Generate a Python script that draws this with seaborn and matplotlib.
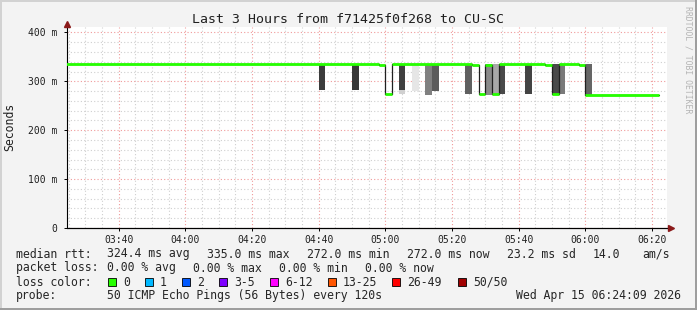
import matplotlib
matplotlib.use("Agg")
import matplotlib.pyplot as plt
from matplotlib.patches import Rectangle
from matplotlib.ticker import MultipleLocator, FuncFormatter
import seaborn as sns
import pandas as pd

# ---------------- data ----------------
title = "Last 3 Hours from f71425f0f268 to CU-SC"

# median RTT (ms), step changes (step = 120 s), value holds until next time
median_times = ["03:24", "04:58", "05:00", "05:02", "05:26", "05:28", "05:30",
                "05:32", "05:34", "05:48", "05:50", "05:52", "05:58", "06:00", "06:22"]
median_values = [335, 333, 274, 335, 333, 274, 333,
                 274, 335, 333, 275, 335, 333, 272, 272]

# smoke (ping spread) per 2-minute step
smoke_times = ["04:40", "04:50", "05:04", "05:04", "05:08", "05:12", "05:14",
               "05:24", "05:30", "05:32", "05:34", "05:42", "05:50", "05:52", "06:00"]
smoke_low = [282, 282, 282, 275, 280, 272, 280, 274, 272, 274, 274, 274, 272, 274, 272]
smoke_high = [335, 335, 335, 282, 335, 335, 335, 335, 335, 335, 335, 335, 335, 335, 335]
smoke_grey = [0x3c, 0x38, 0x40, 0xd0, 0xe6, 0x80, 0x5c, 0x60, 0x8a, 0xa8, 0x4a, 0x44, 0x4a, 0x7a, 0x66]

legend_rtt = ["324.4 ms avg", "335.0 ms max", "272.0 ms min", "272.0 ms now", "23.2 ms sd", "14.0", "am/s"]
legend_loss = ["0.00 % avg", "0.00 % max", "0.00 % min", "0.00 % now"]
loss_labels = ["0", "1", "2", "3-5", "6-12", "13-25", "26-49", "50/50"]
loss_colors = ["#26ff00", "#00b8ff", "#0059ff", "#7e00ff", "#ff00ff", "#ff5500", "#ff0000", "#a10000"]
probe_text = "50 ICMP Echo Pings (56 Bytes) every 120s"
stamp_text = "Wed Apr 15 06:24:09 2026"


def to_min(s):
    h, m = s.split(":")
    return int(h) * 60 + int(m)


# ---------------- style ----------------
sns.set_theme(style="white")
plt.rcParams["font.family"] = ["DejaVu Sans Mono"]

W, H = 697, 310
fig = plt.figure(figsize=(W / 100, H / 100), dpi=100)
fig.patch.set_facecolor("#f3f3f3")


def fx(px):
    return px / W


def fy(py):
    return 1 - py / H


ax = fig.add_axes([fx(67), fy(228), 600 / W, (228 - 27) / H])
ax.set_facecolor("white")
ax.set_xlim(204.5, 384.5)
ax.set_ylim(0, 411)

# grid
ax.xaxis.set_major_locator(MultipleLocator(20))
ax.xaxis.set_minor_locator(MultipleLocator(5))
ax.yaxis.set_major_locator(MultipleLocator(100))
ax.yaxis.set_minor_locator(MultipleLocator(20))
ax.set_axisbelow(True)
ax.grid(which="minor", color="#cfcfcf", linestyle=(0, (1, 2)), linewidth=0.8)
ax.grid(which="major", color="#f09a9a", linestyle=(0, (1, 2)), linewidth=0.8)

# smoke
sx = [to_min(t) for t in smoke_times]
sh = [h - l for h, l in zip(smoke_high, smoke_low)]
scol = ["#%02x%02x%02x" % (g, g, g) for g in smoke_grey]
ax.bar(sx, sh, bottom=smoke_low, width=2, align="edge", color=scol, linewidth=0, zorder=2)

# median: thin dark step line + green horizontal segments
mx = [to_min(t) for t in median_times]
df = pd.DataFrame({"t": mx, "rtt": median_values})
sns.lineplot(data=df, x="t", y="rtt", drawstyle="steps-post", color="#202020",
             linewidth=0.9, estimator=None, ax=ax, zorder=3)
ax.hlines(median_values[:-1], mx[:-1], mx[1:], color="#26ff00", linewidth=2.0, zorder=4)

# axes cosmetics
for s in ["top", "right"]:
    ax.spines[s].set_visible(False)
for s in ["left", "bottom"]:
    ax.spines[s].set_color("black")
    ax.spines[s].set_linewidth(0.8)
ax.set_xlabel("")
ax.set_ylabel("")
ax.xaxis.set_major_formatter(FuncFormatter(lambda v, p: "%02d:%02d" % (int(v) // 60, int(v) % 60)))
ax.yaxis.set_major_formatter(FuncFormatter(lambda v, p: "0" if v == 0 else "%d m" % v))
ax.tick_params(axis="both", which="major", length=2, width=0.7, color="black",
               labelsize=7, labelcolor="#202020", bottom=True, left=True)
ax.tick_params(axis="x", pad=3)
ax.tick_params(axis="y", pad=5)
ax.tick_params(which="minor", length=0)

# arrows
ax.plot([0], [1.015], marker="^", color="#8b1a1a", markersize=4, transform=ax.transAxes,
        clip_on=False, zorder=6)
ax.plot([1.007], [0], marker=">", color="#8b1a1a", markersize=4, transform=ax.transAxes,
        clip_on=False, zorder=6)
ax.plot([0, 1.005], [0, 0], color="black", lw=0.8, transform=ax.transAxes, clip_on=False, zorder=5)

# texts
fig.text(0.5, fy(19.5), title, ha="center", va="center", fontsize=9.5, color="#202020")
fig.text(fx(10), fy(127), "Seconds", rotation=90, ha="center", va="center", fontsize=8.3,
         color="#202020")
fig.text(fx(688), fy(60), "RRDTOOL / TOBI OETIKER", rotation=270, ha="center", va="center",
         fontsize=5.9, color="#b4b4b4")

LF = 8.3
row1 = 254
fig.text(fx(16), fy(row1), "median rtt:", ha="left", va="center", fontsize=LF)
for txt, px in zip(legend_rtt, [107, 207, 307, 407, 507, 593, 642]):
    fig.text(fx(px), fy(row1), txt, ha="left", va="center", fontsize=LF)

row2 = 268
fig.text(fx(16), fy(row2), "packet loss:", ha="left", va="center", fontsize=LF)
for txt, px in zip(legend_loss, [107, 193, 279, 365]):
    fig.text(fx(px), fy(row2), txt, ha="left", va="center", fontsize=LF)

row3 = 282
fig.text(fx(16), fy(row3), "loss color:", ha="left", va="center", fontsize=LF)
box_x = [108, 145, 182, 219, 270, 328, 392, 458]
for lab, col, bx in zip(loss_labels, loss_colors, box_x):
    fig.add_artist(Rectangle((fx(bx), fy(row3 + 4)), 8 / W, 8 / H, transform=fig.transFigure,
                             facecolor=col, edgecolor="black", linewidth=0.6))
    fig.text(fx(bx + 15), fy(row3), lab, ha="left", va="center", fontsize=LF)

row4 = 296
fig.text(fx(16), fy(row4), "probe:", ha="left", va="center", fontsize=LF)
fig.text(fx(107), fy(row4), probe_text, ha="left", va="center", fontsize=LF)
fig.text(fx(681), fy(row4), stamp_text, ha="right", va="center", fontsize=LF)

# frame shading
fig.add_artist(Rectangle((0, 0), fx(2), 1, transform=fig.transFigure, color="#d2d2d2", lw=0))
fig.add_artist(Rectangle((0, fy(2)), 1, 2 / H, transform=fig.transFigure, color="#d2d2d2", lw=0))
fig.add_artist(Rectangle((0, 0), 1, 2 / H, transform=fig.transFigure, color="#9e9e9e", lw=0))
fig.add_artist(Rectangle((fx(695), 0), 2 / W, 1, transform=fig.transFigure, color="#9e9e9e", lw=0))

fig.savefig("out.png", dpi=100, facecolor=fig.get_facecolor())
